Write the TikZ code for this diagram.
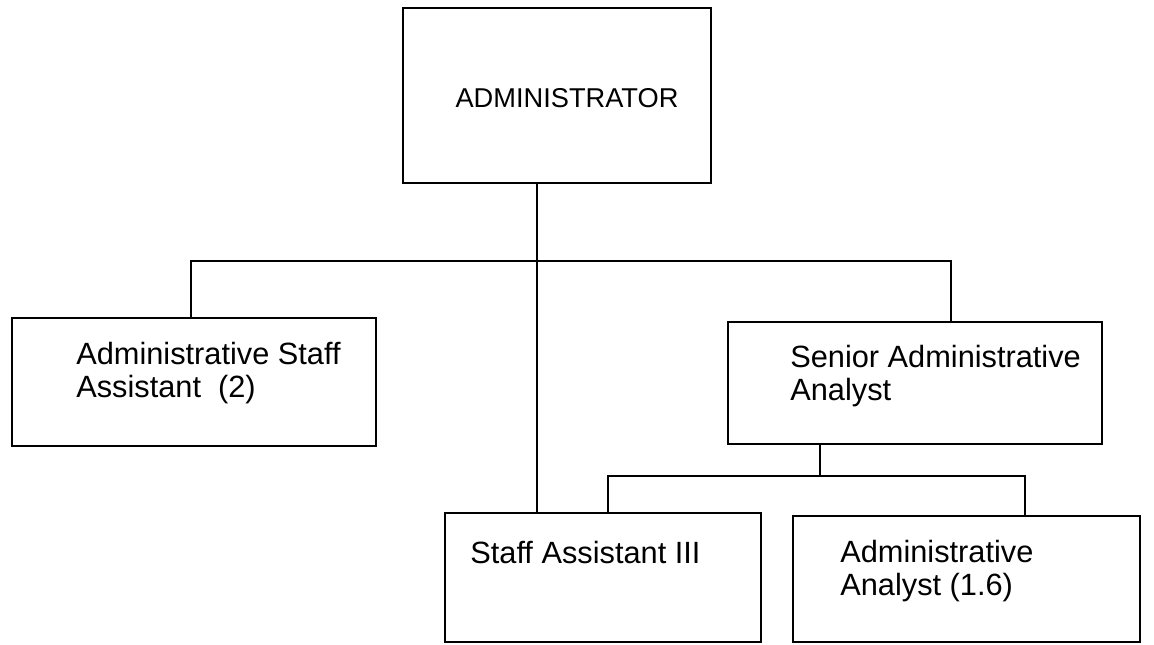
\documentclass[tikz,border=0pt]{standalone}
\usepackage{fontspec}
\setmainfont{Liberation Sans}
\usetikzlibrary{positioning}

\begin{document}
\begin{tikzpicture}[x=0.02cm, y=-0.02cm,
    unit/.style={draw, line width=1pt, rectangle, inner sep=0pt},
    title/.style={align=left, inner sep=0pt, font=\fontsize{17.5}{18.5}\selectfont}]

\useasboundingbox (0,0) rectangle (1154,645);

% boxes
\node[unit, minimum width=6.16cm, minimum height=3.5cm] (admin) at (557,95.5) {};
\node[unit, minimum width=7.28cm, minimum height=2.56cm] (asa) at (194,382) {};
\node[unit, minimum width=7.48cm, minimum height=2.44cm] (saa) at (915,383) {};
\node[unit, minimum width=6.32cm, minimum height=2.58cm] (sa3) at (603,577.5) {};
\node[unit, minimum width=6.94cm, minimum height=2.52cm] (aa) at (966.5,579) {};

% titles
\node[title, font=\fontsize{15.5}{17}\selectfont] (admin-t) at (567,98) {ADMINISTRATOR};
\node[title, anchor=west] (asa-t) at (76,373) {Administrative Staff\\Assistant~ (2)};
\node[title, anchor=west] (saa-t) at (790,376) {Senior Administrative\\Analyst};
\node[title, anchor=west] (sa3-t) at (470,553) {Staff Assistant III};
\node[title, anchor=west] (aa-t) at (840,571) {Administrative\\Analyst (1.6)};

% top level
\coordinate (trunk) at (537,261);
\coordinate (bus-l) at (191,261);
\coordinate (bus-r) at (951,261);
\draw[line width=1pt] (admin.south -| trunk) -- (sa3.north -| trunk);
\draw[line width=1pt] (asa.north -| bus-l) -- (bus-l) -- (bus-r) -- (saa.north -| bus-r);

% analysts
\coordinate (sub-m) at (820,476);
\coordinate (sub-l) at (608,476);
\coordinate (sub-r) at (1025,476);
\draw[line width=1pt] (saa.south -| sub-m) -- (sub-m);
\draw[line width=1pt] (sa3.north -| sub-l) -- (sub-l) -- (sub-r) -- (aa.north -| sub-r);

\end{tikzpicture}
\end{document}
